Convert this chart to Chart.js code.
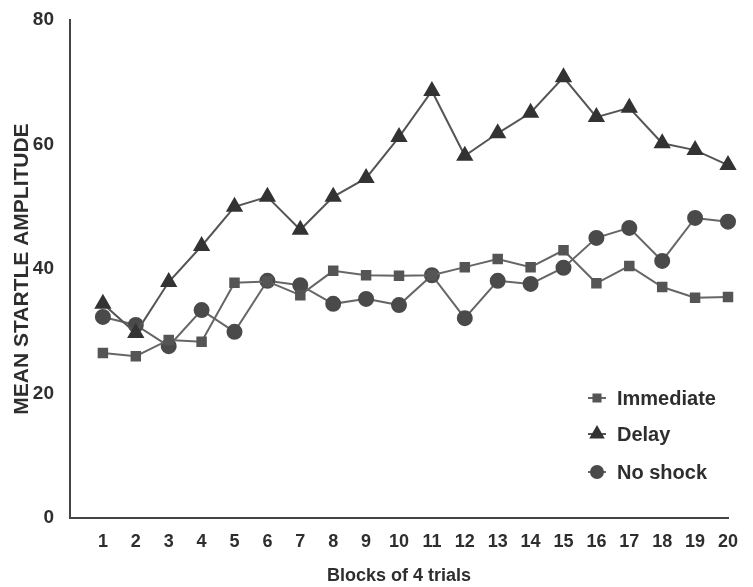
<!DOCTYPE html>
<html>
<head>
<meta charset="utf-8">
<script src="https://cdn.jsdelivr.net/npm/chart.js@4.4.1/dist/chart.umd.min.js"></script>
<style>
  html, body { margin: 0; padding: 0; background: #fff; }
  #wrap { width: 753px; height: 587px; position: relative; }
</style>
</head>
<body>
<div id="wrap"><canvas id="startle"></canvas></div>
<script>
const blocks = [1, 2, 3, 4, 5, 6, 7, 8, 9, 10, 11, 12, 13, 14, 15, 16, 17, 18, 19, 20];
const immediate = [26.5, 26.0, 28.6, 28.3, 37.8, 38.0, 35.8, 39.7, 39.0, 38.9, 39.0, 40.3, 41.6, 40.3, 43.0, 37.7, 40.5, 37.1, 35.4, 35.5];
const delay = [34.4, 29.7, 37.9, 43.7, 50.0, 51.6, 46.3, 51.6, 54.6, 61.2, 68.6, 58.2, 61.8, 65.1, 70.8, 64.4, 65.9, 60.2, 59.1, 56.7];
const noShock = [32.3, 31.0, 27.6, 33.4, 29.9, 38.1, 37.4, 34.4, 35.2, 34.2, 39.0, 32.1, 38.1, 37.6, 40.2, 45.0, 46.6, 41.3, 48.2, 47.6];
const yTicks = [0, 20, 40, 60, 80];

const FONT = "'Liberation Sans', Arial, sans-serif";
const TEXT = '#2e2e2e';

function toPoints(values) {
  return values.map((v, i) => ({ x: blocks[i], y: v }));
}

// legend sits inside the plot, lower right
const insideLegend = {
  id: 'insideLegend',
  afterDraw(chart) {
    const ctx = chart.ctx;
    const area = chart.chartArea;
    const x0 = area.right - 131;
    const rows = [area.bottom - 120, area.bottom - 84, area.bottom - 46];
    ctx.save();
    chart.data.datasets.forEach((ds, i) => {
      const y = rows[i];
      ctx.strokeStyle = ds.borderColor;
      ctx.lineWidth = 2;
      ctx.beginPath();
      ctx.moveTo(x0 - 9, y);
      ctx.lineTo(x0 + 9, y);
      ctx.stroke();
      ctx.fillStyle = ds.pointBackgroundColor;
      ctx.strokeStyle = ds.pointBackgroundColor;
      Chart.helpers.drawPoint(ctx, {
        pointStyle: ds.pointStyle,
        radius: ds.pointRadius - 1,
        rotation: 0,
        borderWidth: 1
      }, x0, y);
      ctx.fillStyle = TEXT;
      ctx.font = 'bold 20px ' + FONT;
      ctx.textBaseline = 'middle';
      ctx.textAlign = 'left';
      ctx.fillText(ds.label, x0 + 20, y + 1);
    });
    ctx.restore();
  }
};

new Chart(document.getElementById('startle'), {
  type: 'line',
  data: {
    datasets: [
      {
        label: 'Immediate',
        data: toPoints(immediate),
        borderColor: '#666',
        borderWidth: 2,
        pointStyle: 'rect',
        pointRadius: 6,
        pointBackgroundColor: '#555',
        pointBorderColor: '#555',
        clip: false
      },
      {
        label: 'Delay',
        data: toPoints(delay),
        borderColor: '#555',
        borderWidth: 2,
        pointStyle: 'triangle',
        pointRadius: 8,
        pointBackgroundColor: '#333',
        pointBorderColor: '#333',
        clip: false
      },
      {
        label: 'No shock',
        data: toPoints(noShock),
        borderColor: '#666',
        borderWidth: 2,
        pointStyle: 'circle',
        pointRadius: 7,
        pointBackgroundColor: '#4a4a4a',
        pointBorderColor: '#4a4a4a',
        clip: false
      }
    ]
  },
  options: {
    responsive: true,
    maintainAspectRatio: false,
    animation: false,
    layout: { padding: { top: 20, right: 25, left: 0, bottom: 0 } },
    plugins: {
      legend: { display: false },
      tooltip: { enabled: false }
    },
    scales: {
      x: {
        type: 'linear',
        min: 0,
        max: 20,
        grid: { display: false },
        border: { display: true, color: '#444', width: 2 },
        ticks: {
          stepSize: 1,
          autoSkip: false,
          maxRotation: 0,
          padding: 5,
          color: TEXT,
          font: { family: FONT, size: 18, weight: 'bold' },
          callback: v => (v === 0 ? '' : String(v))
        },
        title: {
          display: true,
          text: 'Blocks of 4 trials',
          color: TEXT,
          font: { family: FONT, size: 18, weight: 'bold' },
          padding: { top: 16, bottom: 0 }
        },
        afterFit: s => { s.height = 69; }
      },
      y: {
        min: 0,
        max: 80,
        grid: { display: false },
        border: { display: true, color: '#444', width: 2 },
        afterBuildTicks: s => { s.ticks = yTicks.map(v => ({ value: v })); },
        ticks: {
          padding: 8,
          color: TEXT,
          font: { family: FONT, size: 19, weight: 'bold' }
        },
        title: {
          display: true,
          text: 'MEAN STARTLE AMPLITUDE',
          color: TEXT,
          font: { family: FONT, size: 21, weight: 'bold' },
          padding: { top: 10, bottom: 0 }
        },
        afterFit: s => { s.width = 70; }
      }
    }
  },
  plugins: [insideLegend]
});
</script>
</body>
</html>
